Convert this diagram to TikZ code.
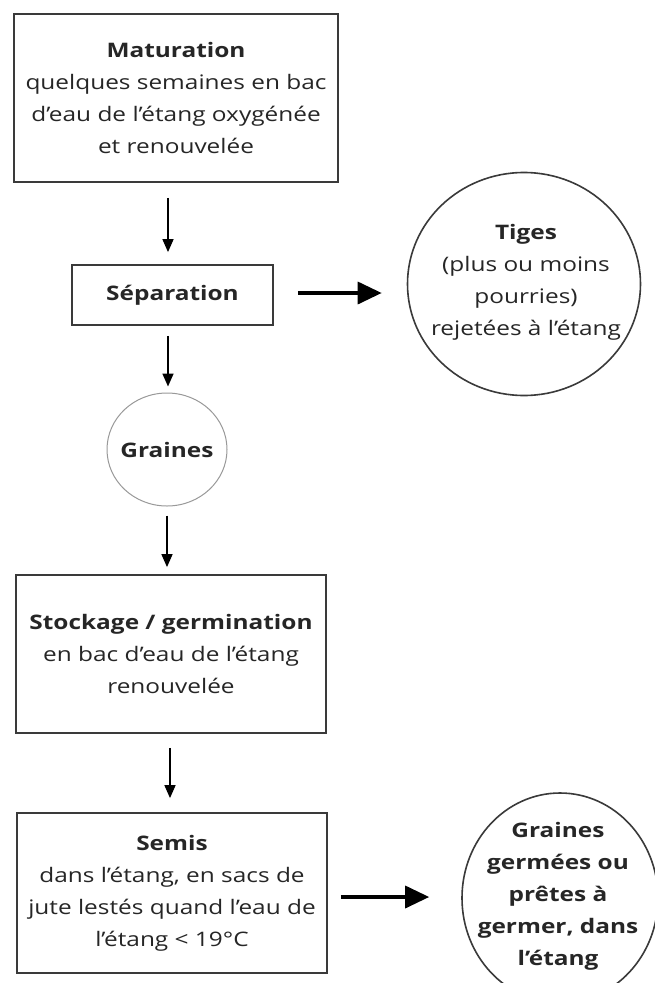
\documentclass[tikz,border=0pt]{standalone}
\usepackage{fontspec}
\setmainfont{Open Sans}[FakeStretch=1.22]
\usetikzlibrary{shapes.geometric,arrows.meta}
\definecolor{ink}{HTML}{262626}
\definecolor{lineink}{HTML}{3A3A3A}
\begin{document}
\begin{tikzpicture}[x=1pt,y=-1pt,
  txt/.style={font=\fontsize{20}{32}\selectfont,text=ink,align=center,inner sep=0pt},
  boxnode/.style={draw=lineink,line width=1.8pt,rectangle,inner sep=0pt,txt},
  roundnode/.style={draw=lineink,line width=1.6pt,ellipse,inner sep=0pt},
  thinround/.style={draw=gray!80,line width=1pt,ellipse,inner sep=0pt},
  downarrow/.style={draw=black,line width=1.6pt,-{Triangle[length=13pt,width=11pt]}},
  rightarrow/.style={draw=black,line width=3.5pt,-{Triangle[length=24pt,width=22pt]}}]
\useasboundingbox (0,0) rectangle (654,983);
\fill[white] (0,0) rectangle (654,983);

\node[boxnode,minimum width=324pt,minimum height=168pt] (mat) at (176,98)
  {\textbf{Maturation}\\quelques semaines en bac\\d’eau de l’étang oxygénée\\et renouvelée};
\node[boxnode,minimum width=201pt,minimum height=60pt] (sep) at (172.5,295)
  {\textbf{Séparation}};
\node[roundnode,minimum width=233pt,minimum height=223pt] (tig) at (524,284) {};
\node[txt] (tigt) at (526,282)
  {\textbf{Tiges}\\(plus ou moins\\pourries)\\rejetées à l’étang};
\node[thinround,minimum width=120pt,minimum height=113pt] (gra) at (167,449.5) {};
\node[txt] (grat) at (167,450) {\textbf{Graines}};
\node[boxnode,minimum width=310pt,minimum height=158pt] (sto) at (171,654)
  {\textbf{Stockage / germination}\\en bac d’eau de l’étang\\renouvelée};
\node[boxnode,minimum width=310pt,minimum height=160pt] (sem) at (172,893)
  {\textbf{Semis}\\dans l’étang, en sacs de\\jute lestés quand l’eau de\\l’étang < 19°C};
\node[roundnode,minimum width=196pt,minimum height=210pt] (ger) at (560,898) {};
\node[txt] (gert) at (558,896)
  {\textbf{Graines}\\\textbf{germées ou}\\\textbf{prêtes à}\\\textbf{germer, dans}\\\textbf{l’étang}};

\coordinate (c1) at (168,0);
\coordinate (c2) at (167,0);
\coordinate (c3) at (170,0);
\coordinate (r1) at (0,293);
\coordinate (r2) at (0,897);

\draw[downarrow,shorten <=15pt,shorten >=12pt] (mat.south -| c1) -- (sep.north -| c1);
\draw[downarrow,shorten <=10pt,shorten >=6pt] (sep.south -| c1) -- (gra.north -| c1);
\draw[downarrow,shorten <=9pt,shorten >=7pt] (gra.south -| c2) -- (sto.north -| c2);
\draw[downarrow,shorten <=14pt,shorten >=14pt] (sto.south -| c3) -- (sem.north -| c3);
\draw[rightarrow,shorten <=24pt,shorten >=25pt] (sep.east |- r1) -- (tig.west |- r1);
\draw[rightarrow,shorten <=13pt,shorten >=32pt] (sem.east |- r2) -- (ger.west |- r2);
\end{tikzpicture}
\end{document}
